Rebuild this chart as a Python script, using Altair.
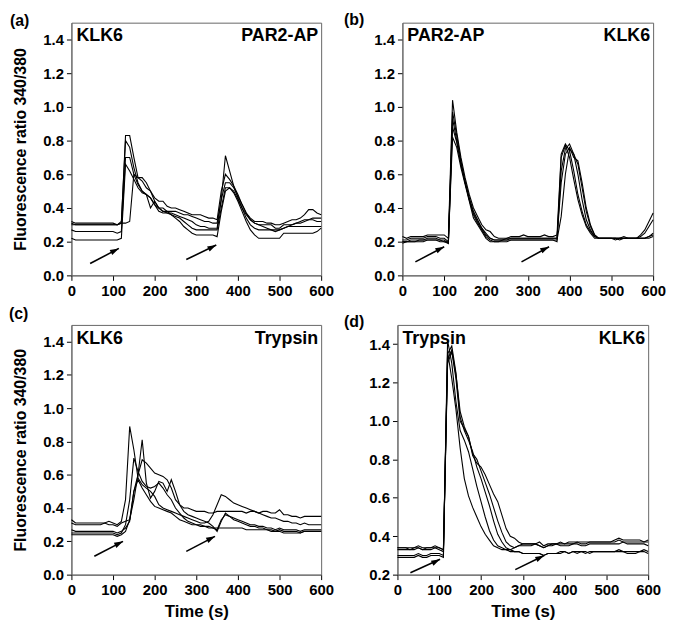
import altair as alt
import pandas as pd

FONT = "Liberation Sans"

time_s = list(range(0, 601, 10))

# ---------------- panel (a): KLK6 then PAR2-AP ----------------
a_traces = [
    [0.32,0.31,0.31,0.31,0.31,0.31,0.31,0.31,0.31,0.31,
     0.31,0.30,0.31,0.83,0.83,0.70,0.58,0.56,0.52,0.50,
     0.46,0.44,0.44,0.41,0.40,0.40,0.39,0.38,0.37,0.36,
     0.36,0.36,0.35,0.34,0.34,0.33,0.50,0.60,0.57,0.53,
     0.48,0.42,0.37,0.34,0.32,0.32,0.32,0.31,0.31,0.30,
     0.30,0.31,0.32,0.33,0.33,0.34,0.36,0.39,0.39,0.37,
     0.36],
    [0.31,0.30,0.30,0.30,0.30,0.30,0.30,0.30,0.30,0.30,
     0.30,0.30,0.31,0.31,0.32,0.60,0.58,0.58,0.55,0.50,
     0.44,0.40,0.38,0.37,0.37,0.36,0.35,0.34,0.33,0.32,
     0.30,0.29,0.29,0.28,0.28,0.28,0.45,0.71,0.62,0.53,
     0.46,0.40,0.36,0.33,0.31,0.30,0.29,0.28,0.27,0.26,
     0.27,0.28,0.29,0.30,0.31,0.32,0.33,0.33,0.34,0.34,
     0.34],
    [0.30,0.30,0.30,0.30,0.30,0.30,0.30,0.30,0.30,0.30,
     0.30,0.30,0.32,0.80,0.76,0.64,0.55,0.50,0.48,0.40,
     0.44,0.40,0.40,0.38,0.38,0.38,0.37,0.36,0.36,0.35,
     0.34,0.33,0.32,0.32,0.31,0.31,0.45,0.55,0.55,0.52,
     0.47,0.42,0.37,0.33,0.31,0.30,0.30,0.30,0.30,0.28,
     0.28,0.30,0.30,0.30,0.31,0.31,0.32,0.33,0.33,0.32,
     0.32],
    [0.27,0.26,0.26,0.26,0.26,0.26,0.26,0.26,0.26,0.26,
     0.26,0.25,0.26,0.70,0.70,0.60,0.54,0.50,0.48,0.46,
     0.42,0.40,0.38,0.38,0.36,0.35,0.34,0.32,0.30,0.28,
     0.27,0.27,0.27,0.27,0.27,0.27,0.40,0.52,0.52,0.50,
     0.45,0.40,0.34,0.30,0.28,0.27,0.27,0.27,0.27,0.27,
     0.27,0.28,0.29,0.29,0.29,0.29,0.29,0.29,0.29,0.29,
     0.29],
    [0.22,0.21,0.21,0.21,0.21,0.21,0.21,0.21,0.21,0.21,
     0.21,0.21,0.22,0.66,0.62,0.57,0.52,0.49,0.48,0.46,
     0.42,0.38,0.37,0.37,0.36,0.34,0.32,0.29,0.27,0.25,
     0.24,0.24,0.24,0.24,0.24,0.23,0.38,0.50,0.52,0.49,
     0.44,0.38,0.32,0.27,0.24,0.22,0.22,0.22,0.22,0.22,
     0.22,0.25,0.25,0.25,0.25,0.25,0.25,0.25,0.25,0.26,
     0.28],
]

# ---------------- panel (b): PAR2-AP then KLK6 ----------------
b_traces = [
    [0.23,0.22,0.23,0.23,0.23,0.23,0.24,0.24,0.24,0.24,
     0.24,0.22,1.04,0.85,0.70,0.58,0.48,0.40,0.35,0.30,
     0.27,0.26,0.23,0.22,0.22,0.22,0.23,0.23,0.23,0.24,
     0.23,0.23,0.23,0.23,0.24,0.23,0.23,0.24,0.72,0.78,
     0.74,0.62,0.48,0.38,0.30,0.26,0.23,0.22,0.22,0.22,
     0.22,0.22,0.22,0.23,0.22,0.22,0.22,0.24,0.27,0.32,
     0.37],
    [0.21,0.21,0.22,0.22,0.22,0.22,0.23,0.23,0.23,0.22,
     0.22,0.20,0.97,0.83,0.68,0.56,0.46,0.38,0.33,0.28,
     0.25,0.22,0.21,0.21,0.21,0.22,0.22,0.22,0.22,0.22,
     0.22,0.22,0.22,0.22,0.22,0.22,0.22,0.22,0.62,0.75,
     0.78,0.72,0.60,0.45,0.33,0.27,0.23,0.22,0.22,0.22,
     0.22,0.22,0.22,0.22,0.22,0.22,0.22,0.23,0.25,0.29,
     0.33],
    [0.20,0.20,0.21,0.21,0.21,0.21,0.22,0.22,0.22,0.21,
     0.21,0.19,0.93,0.80,0.66,0.55,0.45,0.36,0.31,0.27,
     0.23,0.21,0.20,0.20,0.21,0.21,0.21,0.21,0.21,0.21,
     0.21,0.21,0.21,0.21,0.21,0.21,0.21,0.21,0.35,0.60,
     0.75,0.72,0.66,0.52,0.38,0.29,0.24,0.22,0.22,0.22,
     0.22,0.21,0.22,0.22,0.22,0.22,0.22,0.22,0.22,0.23,
     0.25],
    [0.20,0.20,0.20,0.20,0.20,0.20,0.21,0.21,0.21,0.20,
     0.20,0.20,0.82,0.76,0.64,0.54,0.44,0.34,0.30,0.26,
     0.22,0.20,0.20,0.20,0.20,0.20,0.21,0.21,0.21,0.21,
     0.21,0.21,0.21,0.21,0.21,0.21,0.21,0.20,0.70,0.77,
     0.70,0.57,0.45,0.36,0.29,0.25,0.22,0.22,0.22,0.22,
     0.22,0.22,0.22,0.22,0.22,0.22,0.22,0.22,0.22,0.22,
     0.23],
    [0.19,0.20,0.20,0.20,0.21,0.21,0.21,0.21,0.21,0.21,
     0.20,0.19,0.88,0.79,0.66,0.55,0.45,0.37,0.32,0.28,
     0.24,0.22,0.21,0.21,0.21,0.21,0.22,0.22,0.22,0.22,
     0.22,0.22,0.22,0.22,0.22,0.22,0.22,0.22,0.55,0.72,
     0.76,0.70,0.68,0.55,0.40,0.30,0.24,0.22,0.22,0.22,
     0.22,0.22,0.21,0.22,0.22,0.22,0.22,0.22,0.22,0.23,
     0.24],
]

# ---------------- panel (c): KLK6 then Trypsin ----------------
c_traces = [
    [0.33,0.31,0.31,0.31,0.31,0.31,0.31,0.31,0.31,0.32,
     0.31,0.30,0.32,0.45,0.89,0.75,0.58,0.54,0.52,0.50,
     0.47,0.42,0.40,0.39,0.38,0.37,0.36,0.35,0.34,0.33,
     0.32,0.31,0.31,0.32,0.36,0.42,0.48,0.47,0.45,0.43,
     0.42,0.41,0.40,0.39,0.38,0.37,0.36,0.35,0.34,0.34,
     0.33,0.32,0.32,0.31,0.31,0.30,0.31,0.30,0.30,0.30,
     0.30],
    [0.31,0.30,0.30,0.30,0.30,0.30,0.30,0.30,0.31,0.30,
     0.30,0.29,0.31,0.32,0.33,0.45,0.60,0.69,0.67,0.64,
     0.61,0.60,0.59,0.57,0.52,0.45,0.42,0.40,0.40,0.39,
     0.38,0.38,0.38,0.37,0.37,0.38,0.38,0.38,0.38,0.38,
     0.38,0.38,0.37,0.38,0.38,0.37,0.38,0.38,0.37,0.37,
     0.39,0.36,0.36,0.35,0.35,0.34,0.35,0.35,0.35,0.35,
     0.35],
    [0.27,0.26,0.26,0.26,0.26,0.26,0.26,0.26,0.26,0.26,
     0.26,0.25,0.26,0.28,0.32,0.50,0.60,0.81,0.55,0.46,
     0.50,0.56,0.55,0.50,0.57,0.50,0.42,0.38,0.36,0.35,
     0.34,0.33,0.32,0.31,0.29,0.26,0.32,0.37,0.35,0.34,
     0.33,0.32,0.31,0.30,0.30,0.29,0.29,0.28,0.28,0.27,
     0.28,0.27,0.27,0.27,0.27,0.26,0.27,0.27,0.27,0.27,
     0.27],
    [0.25,0.25,0.25,0.25,0.25,0.25,0.25,0.25,0.25,0.25,
     0.25,0.24,0.25,0.30,0.45,0.70,0.62,0.56,0.53,0.52,
     0.53,0.55,0.52,0.48,0.45,0.40,0.37,0.34,0.32,0.31,
     0.30,0.30,0.29,0.28,0.28,0.27,0.33,0.36,0.35,0.33,
     0.32,0.31,0.30,0.29,0.29,0.28,0.28,0.27,0.27,0.26,
     0.27,0.26,0.26,0.26,0.26,0.25,0.26,0.26,0.26,0.26,
     0.26],
    [0.24,0.24,0.24,0.24,0.24,0.24,0.24,0.24,0.24,0.24,
     0.24,0.23,0.24,0.26,0.33,0.50,0.57,0.52,0.48,0.44,
     0.41,0.40,0.39,0.38,0.37,0.35,0.33,0.32,0.31,0.30,
     0.30,0.29,0.29,0.29,0.28,0.28,0.28,0.28,0.28,0.28,
     0.28,0.28,0.27,0.27,0.27,0.27,0.27,0.27,0.26,0.26,
     0.26,0.25,0.25,0.25,0.25,0.25,0.26,0.26,0.26,0.26,
     0.26],
]

# ---------------- panel (d): Trypsin then KLK6 ----------------
d_traces = [
    [0.30,0.30,0.30,0.30,0.30,0.31,0.30,0.30,0.31,0.31,
     0.31,0.30,1.36,1.22,1.06,0.86,0.70,0.61,0.55,0.50,
     0.45,0.41,0.38,0.35,0.34,0.33,0.33,0.32,0.32,0.32,
     0.31,0.31,0.31,0.31,0.31,0.30,0.31,0.31,0.31,0.32,
     0.32,0.31,0.32,0.32,0.32,0.31,0.32,0.32,0.32,0.32,
     0.32,0.32,0.32,0.33,0.32,0.32,0.32,0.32,0.32,0.33,
     0.32],
    [0.29,0.29,0.29,0.29,0.29,0.30,0.29,0.29,0.30,0.30,
     0.30,0.29,1.42,1.30,1.10,0.95,0.90,0.84,0.75,0.66,
     0.58,0.50,0.43,0.38,0.35,0.34,0.33,0.33,0.32,0.32,
     0.31,0.31,0.31,0.31,0.31,0.30,0.31,0.31,0.31,0.31,
     0.32,0.31,0.32,0.31,0.32,0.32,0.31,0.32,0.32,0.32,
     0.32,0.32,0.32,0.32,0.32,0.31,0.31,0.31,0.32,0.32,
     0.31],
    [0.34,0.34,0.34,0.33,0.34,0.34,0.33,0.34,0.34,0.34,
     0.34,0.33,1.35,1.39,1.25,1.02,0.95,0.90,0.84,0.76,
     0.70,0.63,0.56,0.48,0.41,0.37,0.34,0.33,0.34,0.35,
     0.35,0.35,0.35,0.36,0.35,0.34,0.35,0.35,0.36,0.35,
     0.35,0.35,0.36,0.36,0.35,0.35,0.36,0.36,0.36,0.36,
     0.36,0.36,0.36,0.36,0.37,0.36,0.36,0.36,0.36,0.36,
     0.35],
    [0.33,0.33,0.33,0.33,0.33,0.34,0.33,0.33,0.33,0.34,
     0.33,0.32,1.30,1.36,1.22,1.00,0.96,0.92,0.83,0.80,
     0.74,0.68,0.62,0.55,0.48,0.42,0.37,0.35,0.34,0.35,
     0.36,0.36,0.36,0.36,0.35,0.34,0.35,0.36,0.36,0.36,
     0.36,0.36,0.36,0.37,0.36,0.36,0.37,0.37,0.37,0.37,
     0.37,0.37,0.37,0.38,0.37,0.37,0.37,0.37,0.37,0.37,
     0.37],
    [0.34,0.34,0.34,0.34,0.34,0.35,0.34,0.34,0.34,0.35,
     0.34,0.33,1.32,1.37,1.24,1.05,0.97,0.92,0.82,0.78,
     0.76,0.72,0.67,0.62,0.58,0.51,0.44,0.40,0.39,0.37,
     0.36,0.36,0.36,0.36,0.37,0.35,0.36,0.36,0.36,0.37,
     0.36,0.37,0.37,0.37,0.37,0.37,0.37,0.37,0.37,0.37,
     0.37,0.37,0.38,0.39,0.38,0.38,0.38,0.38,0.38,0.37,
     0.38],
]

# arrows: (start time, start value, end time, end value)
a_arrows = [(45, 0.07, 114, 0.16), (276, 0.094, 348, 0.18)]
b_arrows = [(31, 0.08, 100, 0.17), (285, 0.08, 351, 0.17)]
c_arrows = [(55, 0.11, 124, 0.20), (276, 0.14, 345, 0.23)]
d_arrows = [(31, 0.21, 102, 0.28), (282, 0.226, 351, 0.30)]

x_ticks = [0, 100, 200, 300, 400, 500, 600]
y_ticks_full = [0.0, 0.2, 0.4, 0.6, 0.8, 1.0, 1.2, 1.4]
y_ticks_d = [0.2, 0.4, 0.6, 0.8, 1.0, 1.2, 1.4]

Y_TITLE = "Fluorescence ratio 340/380"
X_TITLE = "Time (s)"

ARROW_HEAD = "M0,0L-1,-0.32L-1,0.32Z"


def traces_df(traces):
    rows = []
    for k, vals in enumerate(traces):
        for t, v in zip(time_s, vals):
            rows.append({"t": t, "v": v, "trace": f"cell{k + 1}"})
    return pd.DataFrame(rows)


def panel(traces, arrows, ydomain, yticks, left_label, right_label, tag,
          tag_dx, tag_dy, w, h, ytitle, xtitle):
    df = traces_df(traces)
    xenc = alt.X("t:Q", scale=alt.Scale(domain=[0, 600], nice=False),
                 axis=alt.Axis(values=x_ticks, tickCount=20,
                               title=X_TITLE if xtitle else None,
                               labelFlush=False, labelOverlap=False))
    yenc = alt.Y("v:Q", scale=alt.Scale(domain=ydomain, nice=False, zero=False),
                 axis=alt.Axis(values=yticks, tickCount=20, format=".1f",
                               labelFlush=False, labelOverlap=False,
                               title=Y_TITLE if ytitle else None))
    lines = alt.Chart(df).mark_line(color="black", strokeWidth=1.1).encode(
        x=xenc, y=yenc, detail="trace:N")

    adf = pd.DataFrame(arrows, columns=["t", "v", "t2", "v2"])
    shafts = alt.Chart(adf).mark_rule(color="black", strokeWidth=1.6).encode(
        x="t:Q", y="v:Q", x2="t2:Q", y2="v2:Q")
    hdf = pd.DataFrame({"t": adf["t2"], "v": adf["v2"]})
    heads = alt.Chart(hdf).mark_point(shape=ARROW_HEAD, filled=True, color="black",
                                      opacity=1, size=320, angle=333).encode(
        x="t:Q", y="v:Q")

    tdf = pd.DataFrame({"lab": [left_label]})
    left = alt.Chart(tdf).mark_text(font=FONT, fontWeight="bold", fontSize=18,
                                    align="left", baseline="alphabetic",
                                    color="black").encode(
        x=alt.value(5), y=alt.value(19), text="lab:N")
    rdf = pd.DataFrame({"lab": [right_label]})
    right = alt.Chart(rdf).mark_text(font=FONT, fontWeight="bold", fontSize=18,
                                     align="right", baseline="alphabetic",
                                     color="black").encode(
        x=alt.value(w - 3), y=alt.value(19), text="lab:N")
    gdf = pd.DataFrame({"lab": [tag]})
    tagm = alt.Chart(gdf).mark_text(font=FONT, fontWeight="bold", fontSize=16,
                                    align="left", baseline="alphabetic",
                                    color="black").encode(
        x=alt.value(tag_dx), y=alt.value(tag_dy), text="lab:N")

    return alt.layer(lines, shafts, heads, left, right, tagm).properties(
        width=w, height=h)


pa = panel(a_traces, a_arrows, [0, 1.5], y_ticks_full, "KLK6", "PAR2-AP", "(a)",
           -62, 3, 252, 255, True, False)
pb = panel(b_traces, b_arrows, [0, 1.5], y_ticks_full, "PAR2-AP", "KLK6", "(b)",
           -59, 2, 253, 255, False, False)
pc = panel(c_traces, c_arrows, [0, 1.5], y_ticks_full, "KLK6", "Trypsin", "(c)",
           -63, -6, 252, 252, True, True)
pd_ = panel(d_traces, d_arrows, [0.2, 1.5], y_ticks_d, "Trypsin", "KLK6", "(d)",
            -54, 2, 253, 252, False, True)

chart = alt.vconcat(
    alt.hconcat(pa, pb, spacing=8),
    alt.hconcat(pc, pd_, spacing=8),
    spacing=6,
).properties(
    padding={"left": 0, "top": 0, "right": 0, "bottom": 0}
).configure_view(
    stroke="#666666", strokeWidth=1
).configure_axis(
    labelFont=FONT, labelFontWeight="bold", labelFontSize=15, labelColor="black",
    titleFont=FONT, titleFontWeight="bold", titleFontSize=16, titleColor="black",
    tickColor="black", tickSize=5, domainColor="#666666", grid=False,
    labelPadding=3
).configure_axisY(
    titlePadding=14
).configure_axisX(
    titlePadding=6, titleFontSize=17
).configure_concat(spacing=8)

chart.save("out.html", embed_options={"renderer": "svg", "actions": False})
